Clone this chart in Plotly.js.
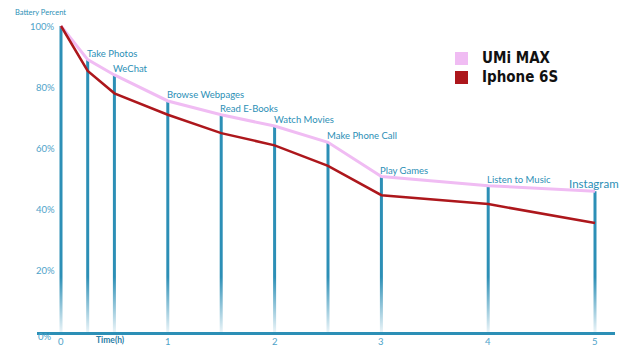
<!DOCTYPE html>
<html><head><meta charset="utf-8">
<script src="https://cdn.plot.ly/plotly-3.0.1.min.js"></script>
<style>html,body{margin:0;padding:0;background:#fff}#chart{width:625px;height:352px}</style>
</head><body><div id="chart"></div>
<script>
// Data
const activities = ["", "Take Photos", "WeChat", "Browse Webpages", "Read E-Books", "Watch Movies", "Make Phone Call", "Play Games", "Listen to Music", "Instagram"];
const timeHours = [0, 0.25, 0.5, 1, 1.5, 2, 2.5, 3, 4, 5];
const umiMax = [100, 89, 84, 75.5, 71, 67.3, 62, 50.8, 47.8, 46];
const iphone6s = [100, 85.3, 78, 71, 65, 61, 54.3, 44.7, 41.8, 35.6];
const yTickVals = [0, 20, 40, 60, 80, 100];
const yTickText = ["0%", "20%", "40%", "60%", "80%", "100%"];
const xTickVals = [0, 1, 2, 3, 4, 5];
const seriesNames = ["UMi MAX", "Iphone 6S"];

const BLUE = "#2c8fb6";
const LBLUE = "#4ea3c9";
const PINK = "#f0bcf3";
const RED = "#ad171c";
const FONT = "Lato, Open Sans, sans-serif";

const traces = [];
// vertical bars
timeHours.forEach((t, i) => {
  traces.push({x: [t, t], y: [0, umiMax[i]], mode: "lines", type: "scatter",
    line: {color: BLUE, width: 3}, hoverinfo: "skip", showlegend: false});
});
// fade overlay at bottom
traces.push({x: [-0.3, 5.3, 5.3, -0.3, -0.3], y: [0, 0, 18, 18, 0], mode: "none", type: "scatter",
  fill: "toself", fillgradient: {type: "vertical", start: 0, stop: 18,
    colorscale: [[0, "rgba(255,255,255,0.9)"], [0.5, "rgba(255,255,255,0.45)"], [1, "rgba(255,255,255,0)"]]},
  hoverinfo: "skip", showlegend: false});
traces.push({x: timeHours, y: umiMax, mode: "lines", type: "scatter", name: seriesNames[0],
  line: {color: PINK, width: 3}, showlegend: false});
traces.push({x: timeHours, y: iphone6s, mode: "lines", type: "scatter", name: seriesNames[1],
  line: {color: RED, width: 2.5}, showlegend: false});

const ann = [];
activities.forEach((a, i) => {
  if (!a) return;
  const last = i === activities.length - 1;
  ann.push({x: timeHours[i], y: umiMax[i], text: a, showarrow: false,
    xanchor: last ? "center" : "left", yanchor: "bottom", xshift: last ? -1 : -3, yshift: -1,
    font: {family: FONT, size: last ? 11.5 : 9.5, color: BLUE}});
});
yTickVals.forEach((v, i) => {
  ann.push({x: -0.04, y: v, text: yTickText[i], showarrow: false, xanchor: "right", yanchor: "middle",
    yshift: v === 0 ? -4 : 0, xshift: v === 0 ? -3 : 0,
    font: {family: FONT, size: 9.5, color: LBLUE}});
});
xTickVals.forEach(v => {
  ann.push({x: v, y: 0, text: String(v), showarrow: false, xanchor: "center", yanchor: "top", yshift: -2,
    font: {family: FONT, size: 9.5, color: LBLUE}});
});
ann.push({x: 0.46, y: 0, text: "<b>Time(h)</b>", showarrow: false, xanchor: "center", yanchor: "top", yshift: -1,
  font: {family: FONT, size: 8.5, color: "#2a7da6"}});
ann.push({xref: "paper", yref: "paper", x: -0.041, y: 0.962, text: "Battery Percent", showarrow: false,
  xanchor: "left", yanchor: "middle",
  font: {family: FONT, size: 7.5, color: BLUE}});
// legend text
ann.push({x: 3.92, y: 89.4, text: "<b>" + seriesNames[0] + "</b>", showarrow: false, xanchor: "left", yanchor: "middle",
  font: {family: "Liberation Sans Narrow, DejaVu Sans Condensed, sans-serif", size: 15, color: "#111"}});
ann.push({x: 3.92, y: 83.2, text: "<b>" + seriesNames[1] + "</b>", showarrow: false, xanchor: "left", yanchor: "middle",
  font: {family: "Liberation Sans Narrow, DejaVu Sans Condensed, sans-serif", size: 15, color: "#111"}});

const shapes = [
  {type: "rect", xref: "x", yref: "y", x0: 3.689, x1: 3.811, y0: 87.25, y1: 91.5, fillcolor: PINK, line: {width: 0}},
  {type: "rect", xref: "x", yref: "y", x0: 3.689, x1: 3.811, y0: 81.05, y1: 85.3, fillcolor: RED, line: {width: 0}}
];

const layout = {
  width: 625, height: 352,
  margin: {l: 37, r: 10, t: 0, b: 20},
  paper_bgcolor: "#fff", plot_bgcolor: "#fff",
  xaxis: {range: [(37 - 61) / 106.8, (615 - 61) / 106.8], showgrid: false, zeroline: false,
    showticklabels: false, ticks: "", showline: true, linecolor: BLUE, linewidth: 3},
  yaxis: {range: [0, 332 / 3.06], showgrid: false, zeroline: false, showticklabels: false, ticks: "", showline: false},
  annotations: ann, shapes: shapes, showlegend: false
};
Plotly.newPlot("chart", traces, layout, {displayModeBar: false, staticPlot: true});
</script></body></html>
